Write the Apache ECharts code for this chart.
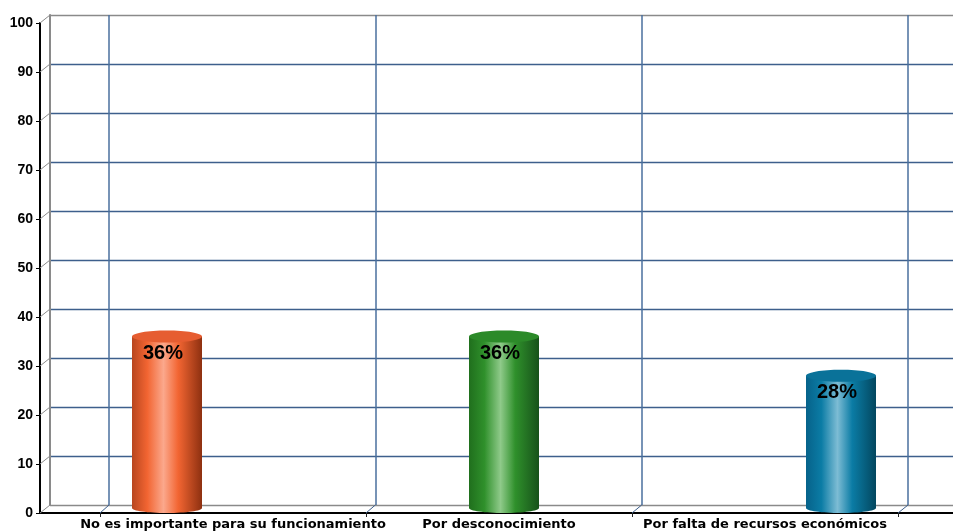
<!DOCTYPE html>
<html>
<head>
<meta charset="utf-8">
<script src="https://cdn.jsdelivr.net/npm/echarts@6/dist/echarts.min.js"></script>
<style>
html,body{margin:0;padding:0;background:#fff;}
#chart{width:953px;height:531px;}
</style>
</head>
<body>
<div id="chart"></div>
<script>
// Categories and their percentages
const categories = ['No es importante para su funcionamiento', 'Por desconocimiento', 'Por falta de recursos económicos'];
const percentages = [36, 36, 28];
// Value axis range and step
const yMin = 0;
const yMax = 100;
const yStep = 10;

// Cylinder shading per category: [dark left, base, highlight, base, dark right], top cap colour
const cylinderColors = [
  { stops: ['#b8461f', '#f26532', '#fba88c', '#f26532', '#8e3010'], cap: '#e65d31' },
  { stops: ['#206f1d', '#2f902b', '#8fca8a', '#2f902b', '#17521a'], cap: '#2c8a29' },
  { stops: ['#06628a', '#0b7ca5', '#7dbcd4', '#0b7ca5', '#03475f'], cap: '#0a7299' }
];

const gridBlue = '#3d5f8c';
const wallBlue = '#4a6f9e';
const wallGray = '#8a8a8a';
const labelFont = '"DejaVu Sans", Verdana, sans-serif';
const tickFont = '"Liberation Sans", Arial, sans-serif';

const chart = echarts.init(document.getElementById('chart'), null, { renderer: 'canvas' });

const splitColors = [];
for (let v = yMin; v <= yMax; v += yStep) {
  splitColors.push(v === yMin || v === yMax ? wallGray : gridBlue);
}

const hiddenValueX = (gi) => ({ gridIndex: gi, type: 'value', min: 0, max: 1, show: false });
const hiddenValueY = (gi) => ({ gridIndex: gi, type: 'value', min: yMin, max: yMax, interval: yStep, show: false });

const option = {
  animation: false,
  grid: [
    // 0: front frame (y labels, front axis lines)
    { left: 40, right: 0, top: 23, bottom: 18 },
    // 1: back wall horizontal lines
    { left: 50, right: -3, top: 15, bottom: 26 },
    // 2: back wall vertical lines
    { left: 109, right: 45, top: 15, bottom: 26 },
    // 3: category labels and front ticks
    { left: 100, right: 55, top: 23, bottom: 18 },
    // 4: cylinders
    { left: 167, right: 112, top: 23, bottom: 18 }
  ],
  xAxis: [
    { gridIndex: 0, type: 'value', min: 0, max: 1,
      axisLine: { show: true, lineStyle: { color: '#000', width: 2 } },
      axisTick: { show: false }, axisLabel: { show: false }, splitLine: { show: false } },
    hiddenValueX(1),
    { gridIndex: 2, type: 'category', data: categories, boundaryGap: true,
      axisLine: { show: false }, axisTick: { show: false }, axisLabel: { show: false },
      splitLine: { show: true, interval: 0, lineStyle: { color: wallBlue, width: 1.5 } } },
    { gridIndex: 3, type: 'category', data: categories, boundaryGap: true,
      axisLine: { show: false },
      axisTick: { show: true, interval: 0, length: 4, lineStyle: { color: '#222', width: 1 } },
      axisLabel: { show: true, interval: 0, margin: 5, color: '#000', fontFamily: labelFont, fontWeight: 'bold', fontSize: 13 },
      splitLine: { show: false } },
    { gridIndex: 4, type: 'category', data: categories, boundaryGap: false, show: false }
  ],
  yAxis: [
    { gridIndex: 0, type: 'value', min: yMin, max: yMax, interval: yStep,
      axisLine: { show: true, lineStyle: { color: '#000', width: 2 } },
      axisTick: { show: true, length: 4, lineStyle: { color: '#000', width: 1 } },
      axisLabel: { margin: 7, color: '#000', fontFamily: tickFont, fontWeight: 'bold', fontSize: 14 },
      splitLine: { show: false } },
    { gridIndex: 1, type: 'value', min: yMin, max: yMax, interval: yStep,
      axisLine: { show: true, lineStyle: { color: wallGray, width: 2 } },
      axisTick: { show: false }, axisLabel: { show: false },
      splitLine: { show: true, lineStyle: { color: splitColors, width: 1.3 } } },
    hiddenValueY(2),
    hiddenValueY(3),
    hiddenValueY(4)
  ],
  series: [{
    type: 'custom',
    xAxisIndex: 4,
    yAxisIndex: 4,
    data: percentages.map((v, i) => [i, v]),
    z: 10,
    renderItem: function (params, api) {
      const idx = api.value(0);
      const val = api.value(1);
      const top = api.coord([idx, val]);
      const base = api.coord([idx, 0]);
      const w = 70;
      const x0 = top[0] - w / 2;
      const c = cylinderColors[idx];
      const grad = new echarts.graphic.LinearGradient(0, 0, 1, 0, [
        { offset: 0, color: c.stops[0] },
        { offset: 0.22, color: c.stops[1] },
        { offset: 0.45, color: c.stops[2] },
        { offset: 0.66, color: c.stops[3] },
        { offset: 1, color: c.stops[4] }
      ]);
      return {
        type: 'group',
        children: [
          { type: 'ellipse', shape: { cx: top[0], cy: base[1] - 5, rx: w / 2, ry: 5 }, style: { fill: grad } },
          { type: 'rect', shape: { x: x0, y: top[1], width: w, height: base[1] - 5 - top[1] }, style: { fill: grad } },
          { type: 'ellipse', shape: { cx: top[0], cy: top[1], rx: w / 2, ry: 6 }, style: { fill: c.cap } },
          { type: 'text', x: top[0] - 4, y: top[1] + 17,
            style: { text: val + '%', fill: '#000', font: 'bold 20px "Liberation Sans", Arial, sans-serif', align: 'center', verticalAlign: 'middle' } }
        ]
      };
    }
  }]
};

chart.setOption(option);

// Depth connectors between the front axes and the back wall
const graphics = [];
for (let v = yMin; v <= yMax; v += yStep) {
  const f = chart.convertToPixel({ gridIndex: 0 }, [0, v]);
  const b = chart.convertToPixel({ gridIndex: 1 }, [0, v]);
  graphics.push({ type: 'line', shape: { x1: f[0], y1: f[1], x2: b[0], y2: b[1] },
    style: { stroke: wallGray, lineWidth: 1 }, z: 5 });
}
const cFront0 = chart.convertToPixel({ xAxisIndex: 3 }, 0);
const cFront1 = chart.convertToPixel({ xAxisIndex: 3 }, 1);
const cBack0 = chart.convertToPixel({ xAxisIndex: 2 }, 0);
const cBack1 = chart.convertToPixel({ xAxisIndex: 2 }, 1);
const bandF = cFront1 - cFront0;
const bandB = cBack1 - cBack0;
const yFront0 = chart.convertToPixel({ gridIndex: 0 }, [0, yMin])[1];
const yBack0 = chart.convertToPixel({ gridIndex: 1 }, [0, yMin])[1];
for (let k = 0; k <= categories.length; k++) {
  const xf = cFront0 - bandF / 2 + k * bandF;
  const xb = cBack0 - bandB / 2 + k * bandB;
  graphics.push({ type: 'line', shape: { x1: xf, y1: yFront0, x2: xb, y2: yBack0 },
    style: { stroke: gridBlue, lineWidth: 1 }, z: 5 });
}
chart.setOption({ graphic: graphics });
</script>
</body>
</html>
